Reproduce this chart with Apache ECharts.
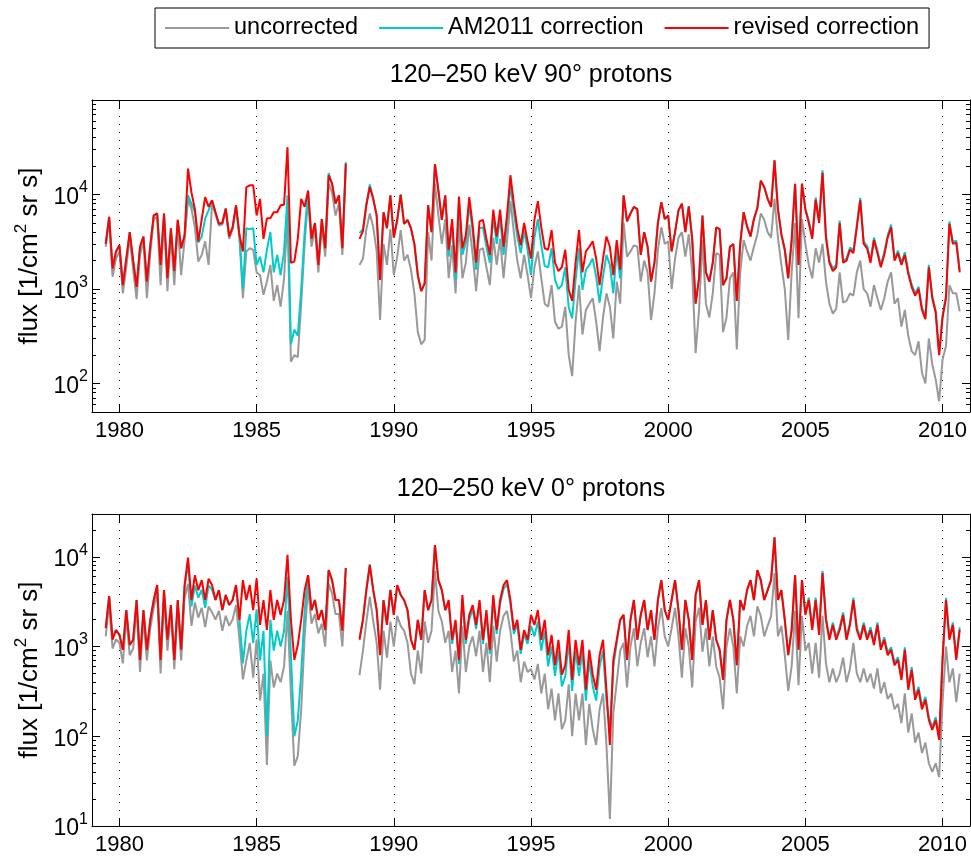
<!DOCTYPE html>
<html>
<head>
<meta charset="utf-8">
<script src="https://cdn.jsdelivr.net/npm/echarts/dist/echarts.min.js"></script>
<style>
  html, body { margin: 0; padding: 0; background: #fff; }
  #chart { width: 971px; height: 856px; }
</style>
</head>
<body>
<div id="chart"></div>
<script>
// samples every 1/8 year from 1979.5; null = data gap in 1988
const red90 = [
  3000, 5800, 1650, 2500,
  2900, 1100, 2100, 4000, 2000, 1050, 2800, 3600,
  1200, 2900, 6000, 6300, 1800, 6300, 1300, 4400,
  1550, 5400, 2700, 3700, 18800, 10500, 7000, 3200,
  5500, 9400, 7400, 8700, 6500, 4900, 5000, 7100,
  3600, 4500, 7700, 3700, 2500, 12000, 12500, 12500,
  6000, 9000, 3400, 5600, 5600, 6500, 6500, 7700,
  7800, 31700, 1900, 1950, 3400, 9000, 7400, 11000,
  3400, 5000, 1800, 5500, 2700, 16000, 13000, 8000,
  9800, 2700, 21200, null, null, null, 3400, 4100,
  7700, 12000, 9000, 6000, 1250, 6500, 4400, 9800,
  3500, 5400, 10000, 4900, 5400, 4400, 3000, 1400,
  950, 1150, 7700, 4000, 21000, 11000, 5400, 9800,
  2600, 5500, 1500, 9500, 2700, 3700, 9400, 4700,
  1900, 5200, 5400, 3400, 2300, 6900, 3600, 6900,
  2800, 6000, 16000, 8000, 4400, 2900, 5000, 3200,
  2100, 5400, 8500, 4500, 2700, 2600, 4200, 1900,
  1550, 1700, 2600, 980, 750, 1900, 4200, 1500,
  2500, 2800, 3200, 2100, 1100, 2100, 3600, 2800,
  1400, 3300, 1600, 9800, 5200, 6300, 7400, 7000,
  2300, 4000, 2800, 1200, 1900, 5000, 8300, 5500,
  6000, 2500, 4000, 6800, 8000, 4000, 7500, 3400,
  700, 1300, 6000, 1500, 1200, 1900, 4500, 4300,
  1100, 1300, 2800, 3000, 750, 3000, 6500, 4600,
  3600, 5500, 7200, 14000, 12000, 9000, 7400, 23000,
  7000, 3800, 2600, 1300, 3300, 13000, 1800, 13000,
  7000, 5000, 3400, 8800, 5000, 17000, 3500, 1900,
  1550, 1700, 5000, 1900, 2000, 2600, 2400, 4500,
  8700, 3000, 2700, 1900, 3300, 2400, 1700, 2300,
  3500, 4500, 2000, 2400, 1800, 2300, 1450, 1050,
  850, 1000, 600, 480, 1700, 800, 560, 200,
  500, 800, 4900, 3000, 3100, 1500
]
const cyan90 = [
  3000, 5800, 1650, 2500,
  2900, 1100, 2100, 4000, 2000, 1050, 2800, 3600,
  1200, 2900, 6000, 6300, 1800, 6300, 1300, 4400,
  1500, 5400, 2700, 3700, 9800, 8000, 6500, 3100,
  3600, 5600, 6800, 8700, 6500, 4900, 5000, 7100,
  3600, 4500, 7700, 3700, 1000, 4400, 4300, 4400,
  1800, 2200, 1500, 2600, 4000, 1500, 2300, 1400,
  2500, 9800, 260, 370, 320, 1000, 4000, 11000,
  3400, 5000, 1800, 5500, 2700, 16900, 13000, 8000,
  9800, 2700, 22000, null, null, null, 3900, 4300,
  8000, 12800, 9000, 6000, 1250, 6500, 4400, 9800,
  3500, 5400, 10000, 4900, 5400, 4400, 3000, 1400,
  950, 1150, 7700, 4000, 21000, 11000, 5400, 9800,
  2200, 4700, 1250, 8500, 2300, 3100, 8000, 4000,
  1600, 4400, 4500, 2800, 1900, 5800, 3000, 5800,
  2300, 5000, 12500, 6500, 3600, 2400, 4100, 2600,
  1400, 3500, 5500, 2900, 1750, 1700, 2700, 1250,
  1000, 1100, 1700, 640, 490, 1250, 2700, 980,
  1600, 1800, 2100, 1350, 720, 1350, 2300, 1800,
  900, 2600, 1300, 9800, 5200, 6300, 7400, 7000,
  2300, 4000, 2800, 1200, 1900, 5000, 8300, 5500,
  6000, 2500, 4000, 6800, 8000, 4000, 7500, 3400,
  700, 1300, 6000, 1500, 1200, 1900, 4500, 4300,
  1100, 1300, 2800, 3000, 750, 3000, 6500, 4600,
  3600, 5500, 7200, 14000, 12000, 9000, 7400, 23000,
  7000, 3800, 2600, 1300, 3300, 13000, 1800, 13000,
  7000, 5300, 3600, 9300, 5300, 18000, 3700, 2000,
  1650, 1800, 5300, 2000, 2100, 2750, 2550, 4800,
  9200, 3200, 2850, 2000, 3500, 2550, 1800, 2450,
  3700, 4800, 2100, 2550, 1900, 2450, 1550, 1120,
  900, 1060, 640, 510, 1800, 850, 590, 210,
  530, 850, 5200, 3150, 3250, 1580
]
const gray90 = [
  2800, 5300, 1350, 2100,
  2500, 900, 1700, 3500, 1600, 780, 2300, 3200,
  800, 2400, 5500, 5800, 1100, 5700, 950, 3700,
  1100, 4800, 1400, 3300, 9000, 7000, 4500, 1950,
  2300, 3200, 1800, 8000, 6200, 4700, 4800, 6800,
  3400, 4300, 7300, 3500, 800, 2500, 2700, 2600,
  1500, 1400, 870, 1200, 1800, 750, 1100, 650,
  1300, 6000, 170, 200, 190, 700, 3000, 9000,
  2800, 4300, 1500, 4700, 2200, 13000, 10500, 6000,
  8000, 2300, 19000, null, null, null, 1800, 2100,
  4300, 6300, 4500, 2500, 470, 3000, 1800, 4300,
  1400, 2200, 4200, 2000, 2300, 1600, 900, 350,
  260, 290, 4000, 2000, 13000, 6000, 3000, 5500,
  1300, 2900, 900, 5000, 1300, 1900, 4800, 2300,
  950, 2600, 2700, 1700, 1100, 3500, 1800, 3400,
  1300, 3200, 8500, 4000, 2000, 1300, 2300, 1400,
  800, 1700, 2500, 1300, 700, 650, 1100, 450,
  380, 400, 650, 200, 120, 450, 1100, 330,
  600, 700, 800, 450, 220, 500, 900, 650,
  300, 1200, 700, 5000, 2200, 2500, 2900, 2800,
  1200, 2000, 1500, 470, 900, 2600, 4500, 3000,
  3200, 1000, 2100, 3500, 4000, 2200, 3800, 1500,
  210, 600, 3300, 700, 500, 900, 2400, 2300,
  350, 500, 1300, 1500, 230, 1500, 3300, 2500,
  2000, 2800, 3800, 6300, 5400, 4000, 3500, 9000,
  3500, 1800, 1000, 290, 1500, 5000, 490, 5500,
  3000, 1800, 1300, 2700, 1900, 3000, 1200, 700,
  550, 620, 1500, 720, 750, 900, 850, 1500,
  2000, 1000, 900, 650, 1100, 800, 600, 800,
  1200, 1500, 700, 800, 400, 600, 320, 220,
  200, 280, 130, 100, 300, 160, 110, 65,
  180, 250, 1100, 900, 900, 580
]
const red0 = [
  1600, 3650, 1190, 1530,
  1350, 920, 2550, 1040, 1190, 3300, 710, 2550,
  920, 1980, 3300, 4850, 710, 4250, 1190, 2900,
  710, 3300, 920, 4850, 9800, 3300, 6250, 4250,
  5500, 3300, 5700, 4850, 3300, 4250, 2550, 3750,
  2900, 3300, 4850, 1980, 5500, 3300, 4850, 2550,
  5700, 1740, 3300, 1530, 4250, 1980, 3300, 2250,
  3300, 10500, 1980, 710, 1040, 1980, 4250, 6250,
  2550, 3300, 1980, 2550, 1530, 7100, 5500, 3300,
  3300, 1500, 7500, null, null, null, 1190, 1980,
  4250, 8100, 4250, 2550, 800, 3300, 1740, 4250,
  2250, 4850, 3750, 3300, 2550, 1190, 920, 1980,
  1190, 4250, 2550, 3300, 13500, 5500, 4250, 2550,
  3300, 1190, 1980, 710, 3750, 1190, 2250, 2900,
  1740, 3300, 1190, 2550, 920, 3750, 1530, 3300,
  4850, 5500, 3300, 1530, 1980, 920, 1530, 1190,
  2250, 1740, 2550, 1190, 1980, 800, 1350, 620,
  1190, 485, 620, 1530, 425, 1190, 620, 1190,
  330, 920, 485, 330, 800, 1190, 330, 80,
  710, 1190, 1980, 2250, 710, 1980, 3300, 1190,
  2250, 3300, 1530, 2550, 1190, 3300, 5500, 2550,
  1980, 3300, 5500, 2550, 920, 3300, 1980, 710,
  3750, 5500, 1740, 3300, 1190, 2550, 1190, 920,
  425, 1980, 3300, 1980, 620, 3300, 2550, 4250,
  5500, 3300, 7100, 5500, 3300, 4250, 5500, 16500,
  3300, 4250, 1980, 800, 1530, 6250, 920, 5500,
  2250, 3300, 1530, 3300, 1350, 6600, 1980, 1190,
  1740, 1190, 1530, 2250, 1190, 1740, 3300, 1530,
  1190, 1740, 1190, 1530, 1040, 1740, 920, 1190,
  800, 920, 620, 710, 425, 920, 330, 550,
  255, 330, 200, 255, 152, 118, 152, 91,
  710, 3300, 1190, 1740, 710, 1530
]
const cyan0 = [
  1600, 3650, 1250, 1530,
  1350, 920, 2550, 1040, 1190, 3300, 710, 2550,
  920, 1980, 3300, 4850, 710, 4250, 1190, 2900,
  710, 3300, 920, 4600, 8500, 2800, 4800, 3500,
  4300, 2700, 4800, 4300, 3300, 4250, 2550, 3750,
  2900, 3300, 4850, 1980, 650, 1500, 2300, 1100,
  2600, 700, 1500, 100, 2000, 900, 1500, 1000,
  1500, 6000, 800, 100, 150, 500, 2500, 6250,
  2550, 3300, 1980, 2550, 1530, 7100, 5500, 3300,
  3300, 1500, 7500, null, null, null, 1250, 2000,
  4300, 8300, 4300, 2600, 820, 3300, 1800, 4300,
  2250, 4850, 3750, 3300, 2550, 1190, 920, 1980,
  1190, 4250, 2550, 3300, 13500, 5500, 4250, 2550,
  3000, 1070, 1800, 640, 3400, 1070, 2000, 2600,
  1570, 3000, 1070, 2300, 830, 3400, 1380, 3000,
  4400, 5000, 3000, 1380, 1800, 830, 1380, 1070,
  1700, 1300, 1900, 900, 1500, 600, 1000, 470,
  900, 360, 470, 1150, 320, 900, 470, 900,
  250, 700, 360, 250, 600, 900, 250, 120,
  600, 1100, 1980, 2250, 710, 1980, 3300, 1190,
  2250, 3300, 1530, 2550, 1190, 3300, 5500, 2550,
  1980, 3300, 5500, 2550, 920, 3300, 1980, 710,
  3750, 5500, 1740, 3300, 1190, 2550, 1190, 920,
  425, 1980, 3300, 1980, 620, 3300, 2550, 4250,
  5500, 3300, 7100, 5500, 3300, 4250, 5500, 16500,
  3300, 4250, 1980, 800, 1530, 6250, 920, 5500,
  2400, 3500, 1640, 3500, 1450, 7000, 2100, 1270,
  1860, 1270, 1640, 2400, 1270, 1860, 3500, 1640,
  1270, 1860, 1270, 1640, 1110, 1860, 980, 1270,
  860, 980, 660, 760, 455, 980, 355, 590,
  275, 355, 215, 275, 163, 126, 163, 97,
  760, 3500, 1270, 1860, 760, 1640
]
const gray0 = [
  1300, 3000, 950, 1200,
  1100, 650, 2100, 800, 950, 2700, 520, 2100,
  700, 1600, 2700, 4000, 500, 3500, 900, 2400,
  560, 2700, 700, 3500, 5000, 1700, 3100, 2100,
  2700, 1650, 2800, 2400, 2000, 2500, 1500, 2200,
  1700, 2000, 2900, 1200, 430, 700, 1100, 450,
  1200, 250, 500, 48, 700, 350, 500, 400,
  600, 2500, 300, 47, 60, 200, 1300, 4500,
  1800, 2300, 1400, 1800, 1000, 5000, 3900, 2300,
  2300, 1000, 5300, null, null, null, 480, 900,
  1900, 3600, 1900, 1100, 330, 1500, 750, 1900,
  1000, 2200, 1700, 1500, 1100, 500, 380, 900,
  500, 1900, 1100, 1500, 7000, 2500, 1900, 1100,
  1500, 520, 900, 300, 1700, 520, 1000, 1300,
  780, 1500, 520, 1100, 400, 1700, 680, 1500,
  2200, 2500, 1500, 680, 900, 400, 680, 520,
  560, 430, 640, 300, 500, 200, 340, 150,
  300, 120, 150, 380, 100, 300, 150, 300,
  80, 230, 120, 80, 200, 300, 80, 12,
  180, 400, 900, 1100, 350, 1000, 1600, 600,
  1100, 1600, 760, 1300, 600, 1600, 2700, 1300,
  1000, 1600, 2700, 1300, 450, 1600, 1000, 350,
  1900, 2700, 870, 1600, 600, 1300, 600, 450,
  200, 1000, 1600, 1000, 300, 1300, 1000, 1700,
  2200, 1300, 2800, 2200, 1300, 1700, 2200, 6600,
  1300, 1700, 800, 320, 600, 2500, 370, 2200,
  900, 1100, 500, 1100, 450, 2200, 650, 400,
  570, 400, 500, 750, 400, 570, 1100, 500,
  400, 570, 400, 500, 340, 570, 300, 400,
  260, 300, 200, 230, 140, 300, 110, 180,
  85, 110, 65, 85, 50, 40, 50, 35,
  240, 1000, 400, 570, 240, 500
]
const years = red90.map((_, i) => 1979.5 + i / 8)
const yearTicks = [1980, 1985, 1990, 1995, 2000, 2005, 2010]

const FONT = 'Liberation Sans'
const chart = echarts.init(document.getElementById('chart'))

function minorTicks (lo, hi) {
  const out = []
  for (let e = 0; e < 6; e++) {
    for (let k = 2; k <= 9; k++) {
      const v = k * Math.pow(10, e)
      if (v > lo && v < hi) out.push(v)
    }
  }
  return out
}

function pairs (arr) {
  return arr.map((v, i) => [years[i], v == null ? '-' : v])
}

const panels = [
  { top: 100, min: 50, max: 100000, majors: [100, 1000, 10000], title: '120–250 keV 90° protons', gray: gray90, cyan: cyan90, red: red90 },
  { top: 514, min: 10, max: 30000, majors: [10, 100, 1000, 10000], title: '120–250 keV 0° protons', gray: gray0, cyan: cyan0, red: red0 }
]

const black = { color: '#000', width: 1 }
const grid = []
const xAxis = []
const yAxis = []
const series = []
const graphic = []

panels.forEach((p, k) => {
  grid.push({ left: 92, right: 1, top: p.top, height: 312 })

  const xBase = {
    gridIndex: k, type: 'value', min: 1979, max: 2011,
    axisLine: { lineStyle: black },
    axisTick: { inside: true, length: 8, customValues: yearTicks, lineStyle: black }
  }
  xAxis.push(Object.assign({}, xBase, {
    position: 'bottom',
    axisLabel: { customValues: yearTicks, formatter: v => String(v), margin: 8, fontSize: 22, color: '#000', fontFamily: FONT },
    splitLine: { show: true, lineStyle: { color: '#000', width: 1, type: [1, 7] } }
  }))
  xAxis.push(Object.assign({}, xBase, {
    position: 'top', axisLabel: { show: false }, splitLine: { show: false }
  }))

  const yBase = { gridIndex: k, type: 'log', logBase: 10, min: p.min, max: p.max, splitLine: { show: false } }
  const minors = minorTicks(p.min, p.max)
  yAxis.push(Object.assign({}, yBase, {
    position: 'left',
    axisLine: { show: true, lineStyle: black },
    axisTick: { inside: true, length: 8, customValues: p.majors, lineStyle: black },
    axisLabel: {
      customValues: p.majors,
      margin: 4,
      formatter: v => '{b|10}{s|' + Math.round(Math.log10(v)) + '}',
      rich: {
        b: { fontSize: 23, fontFamily: FONT, color: '#000', verticalAlign: 'bottom' },
        s: { fontSize: 16, fontFamily: FONT, color: '#000', verticalAlign: 'bottom', padding: [0, 0, 13, 0] }
      }
    },
    name: '{n|flux [1/cm}{s|2}{n| sr s]}',
    nameLocation: 'middle',
    nameGap: 44,
    nameRotate: 90,
    nameTextStyle: {
      rich: {
        n: { fontSize: 26, fontFamily: FONT, color: '#000', verticalAlign: 'bottom' },
        s: { fontSize: 17, fontFamily: FONT, color: '#000', verticalAlign: 'bottom', padding: [0, 0, 13, 0] }
      }
    }
  }))
  yAxis.push(Object.assign({}, yBase, {
    position: 'left',
    axisLine: { show: false },
    axisTick: { inside: true, length: 4, customValues: minors, lineStyle: black },
    axisLabel: { show: false }
  }))
  yAxis.push(Object.assign({}, yBase, {
    position: 'right',
    axisLine: { show: true, lineStyle: black },
    axisTick: { inside: true, length: 8, customValues: p.majors, lineStyle: black },
    axisLabel: { show: false }
  }))
  yAxis.push(Object.assign({}, yBase, {
    position: 'right',
    axisLine: { show: false },
    axisTick: { inside: true, length: 4, customValues: minors, lineStyle: black },
    axisLabel: { show: false }
  }))

  const lines = [
    ['uncorrected', p.gray, '#999999'],
    ['AM2011 correction', p.cyan, '#00cccc'],
    ['revised correction', p.red, '#ff0000']
  ]
  lines.forEach(([name, arr, color]) => {
    series.push({
      name: name,
      type: 'line',
      xAxisIndex: 2 * k,
      yAxisIndex: 4 * k,
      data: pairs(arr),
      showSymbol: false,
      symbol: 'none',
      connectNulls: false,
      lineStyle: { color: color, width: 2 },
      itemStyle: { color: color }
    })
  })

  graphic.push({
    type: 'text',
    x: 531,
    y: p.top - 25,
    style: { text: p.title, fontSize: 25, fontFamily: FONT, fill: '#000', align: 'center', verticalAlign: 'middle' }
  })
})

const option = {
  animation: false,
  backgroundColor: '#fff',
  legend: {
    data: ['uncorrected', 'AM2011 correction', 'revised correction'],
    left: 155,
    top: 8,
    icon: 'rect',
    itemWidth: 64,
    itemHeight: 2,
    itemGap: 21,
    padding: [8, 10],
    borderColor: '#000',
    borderWidth: 1,
    textStyle: { fontSize: 23.5, fontFamily: FONT, color: '#000' }
  },
  grid: grid,
  xAxis: xAxis,
  yAxis: yAxis,
  series: series,
  graphic: graphic
}

chart.setOption(option)
</script>
</body>
</html>
